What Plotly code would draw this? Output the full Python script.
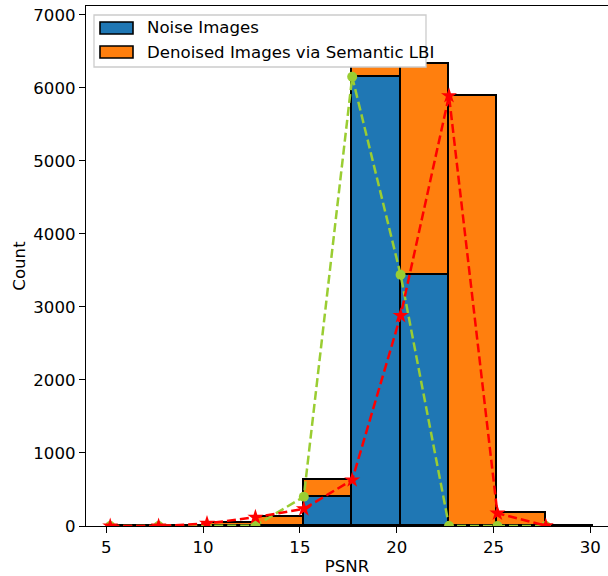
import plotly.graph_objects as go

# Histogram bins (left edges) and width
bin_left = [5.2, 7.7, 10.2, 12.7, 15.2, 17.7, 20.2, 22.7, 25.2, 27.7]
bin_width = 2.5
noise_counts = [0, 0, 0, 5, 400, 6150, 3440, 0, 0, 0]
denoised_counts = [0, 0, 35, 120, 235, 630, 2880, 5890, 175, 3]
series_names = ["Noise Images", "Denoised Images via Semantic LBI"]
series_colors = ["#1f77b4", "#ff7f0e"]

x_ticks = [5, 10, 15, 20, 25, 30]
y_ticks = [0, 1000, 2000, 3000, 4000, 5000, 6000, 7000]

centers = [b + bin_width / 2 for b in bin_left]

FONT = "DejaVu Sans"
FS = 16.6
W, H = 608, 576
ML, MR, MT, MB = 86, 0, 6, 50
plot_w = W - ML - MR
plot_h = H - MT - MB


def px(xp):
    return (xp - ML) / plot_w


def py(yp):
    return (H - MB - yp) / plot_h


fig = go.Figure()
for vals, name, col in zip([noise_counts, denoised_counts], series_names, series_colors):
    fig.add_trace(go.Bar(
        x=centers, y=vals, width=bin_width, name=name, showlegend=False,
        marker=dict(color=col, line=dict(color="black", width=1.6)),
    ))
fig.add_trace(go.Scatter(
    x=bin_left, y=noise_counts, mode="lines+markers", showlegend=False,
    line=dict(color="yellowgreen", width=2.5, dash="9px,4px"),
    marker=dict(symbol="circle", size=10, color="yellowgreen"),
))
fig.add_trace(go.Scatter(
    x=bin_left, y=denoised_counts, mode="lines+markers", showlegend=False,
    line=dict(color="red", width=2.5, dash="9px,4px"),
    marker=dict(symbol="star", size=12, color="red"),
))

x0 = 3.95
x1 = x0 + plot_w / 19.36

# custom legend (matplotlib style)
shapes = [dict(type="rect", xref="paper", yref="paper", layer="above",
               x0=px(94), x1=px(426), y0=py(15), y1=py(67),
               fillcolor="white", line=dict(color="#cccccc", width=1.3))]
annotations = []
for i, (name, col) in enumerate(zip(series_names, series_colors)):
    yc = 28 + 24 * i
    shapes.append(dict(type="rect", xref="paper", yref="paper", layer="above",
                       x0=px(100), x1=px(133), y0=py(yc - 6), y1=py(yc + 6),
                       fillcolor=col, line=dict(color="black", width=1.6)))
    annotations.append(dict(text=name, xref="paper", yref="paper",
                            x=px(145), y=py(yc), xanchor="left", yanchor="middle",
                            showarrow=False, font=dict(family=FONT, size=FS, color="black")))

fig.update_layout(
    width=W, height=H,
    margin=dict(l=ML, r=MR, t=MT, b=MB, pad=0),
    barmode="stack", bargap=0,
    plot_bgcolor="white", paper_bgcolor="white",
    font=dict(family=FONT, size=FS, color="black"),
    showlegend=False,
    shapes=shapes, annotations=annotations,
    xaxis=dict(
        range=[x0, x1], tickvals=x_ticks, ticktext=[str(v) for v in x_ticks],
        showgrid=False, zeroline=False, showline=True, linecolor="black", linewidth=1.3,
        mirror=True, ticks="outside", ticklen=6, tickwidth=1.3, tickcolor="black",
        tickfont=dict(family=FONT, size=FS),
        title=dict(text="PSNR", font=dict(family=FONT, size=FS), standoff=4),
    ),
    yaxis=dict(
        range=[0, 7119], tickvals=y_ticks, ticktext=[str(v) for v in y_ticks],
        showgrid=False, zeroline=False, showline=True, linecolor="black", linewidth=1.3,
        ticks="outside", ticklen=6, tickwidth=1.3, tickcolor="black",
        tickfont=dict(family=FONT, size=FS),
        title=dict(text="Count", font=dict(family=FONT, size=FS), standoff=3),
    ),
)

fig.write_html("out.html")
